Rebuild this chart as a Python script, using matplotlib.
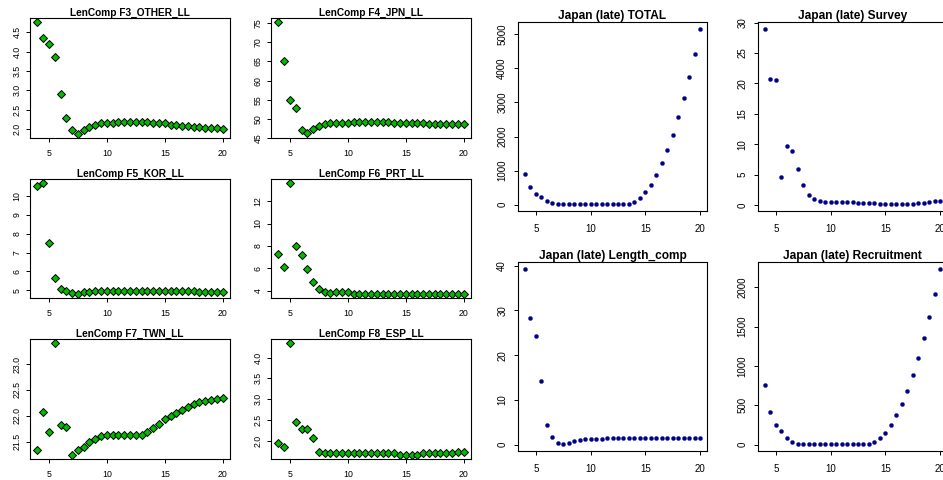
import matplotlib
matplotlib.use("Agg")
import matplotlib.pyplot as plt
import numpy as np

plt.rcParams['font.family'] = ['Liberation Sans', 'DejaVu Sans']

W, H = 943, 480
DPI = 100

# x values (common)
x_vals = [4 + 0.5 * i for i in range(33)]

# ---------------- left block: LenComp fleets (green diamonds) -------------
f3_title = "LenComp F3_OTHER_LL"
f3_y = [4.75, 4.35, 4.19, 3.85, 2.91, 2.28, 1.97, 1.89, 1.97, 2.05, 2.12, 2.15,
        2.17, 2.17, 2.20, 2.20, 2.20, 2.20, 2.20, 2.20, 2.17, 2.15, 2.15, 2.12,
        2.12, 2.09, 2.09, 2.07, 2.07, 2.04, 2.04, 2.04, 2.02]
f3_yticks = [2.0, 2.5, 3.0, 3.5, 4.0, 4.5]
f3_ylabels = ["2.0", "2.5", "3.0", "3.5", "4.0", "4.5"]

f4_title = "LenComp F4_JPN_LL"
f4_y = [75.2, 65.2, 55.0, 52.9, 47.1, 46.3, 47.3, 48.1, 48.6, 48.9, 48.9, 48.9,
        48.9, 49.1, 49.1, 49.1, 49.1, 49.1, 49.1, 49.1, 48.9, 48.9, 48.9, 48.9,
        48.9, 48.9, 48.6, 48.6, 48.6, 48.6, 48.6, 48.6, 48.6]
f4_yticks = [45, 50, 55, 60, 65, 70, 75]
f4_ylabels = ["45", "50", "55", "60", "65", "70", "75"]

f5_title = "LenComp F5_KOR_LL"
f5_y = [10.53, 10.65, 7.48, 5.65, 5.05, 4.95, 4.88, 4.83, 4.90, 4.93, 4.95, 4.98,
        4.98, 4.98, 4.98, 4.98, 4.98, 4.98, 4.98, 4.98, 4.98, 4.98, 4.95, 4.95,
        4.95, 4.95, 4.95, 4.95, 4.92, 4.92, 4.92, 4.92, 4.92]
f5_yticks = [5, 6, 7, 8, 9, 10]
f5_ylabels = ["5", "6", "7", "8", "9", "10"]

f6_title = "LenComp F6_PRT_LL"
f6_y = [7.25, 6.12, 13.58, 8.03, 7.15, 5.94, 4.76, 4.18, 3.92, 3.83, 3.85, 3.85,
        3.85, 3.75, 3.75, 3.75, 3.75, 3.75, 3.75, 3.75, 3.75, 3.75, 3.75, 3.75,
        3.75, 3.75, 3.75, 3.75, 3.75, 3.75, 3.75, 3.75, 3.75]
f6_yticks = [4, 6, 8, 10, 12]
f6_ylabels = ["4", "6", "8", "10", "12"]

f7_title = "LenComp F7_TWN_LL"
f7_y = [21.33, 22.08, 21.69, 23.40, 21.83, 21.79, 21.25, 21.33, 21.40, 21.50,
        21.56, 21.60, 21.62, 21.62, 21.63, 21.63, 21.63, 21.63, 21.63, 21.69,
        21.77, 21.85, 21.93, 22.00, 22.06, 22.12, 22.17, 22.22, 22.26, 22.29,
        22.31, 22.33, 22.35]
f7_yticks = [21.5, 22.0, 22.5, 23.0]
f7_ylabels = ["21.5", "22.0", "22.5", "23.0"]

f8_title = "LenComp F8_ESP_LL"
f8_y = [1.94, 1.84, 4.34, 2.46, 2.29, 2.28, 2.06, 1.72, 1.70, 1.70, 1.70, 1.70,
        1.70, 1.70, 1.70, 1.70, 1.70, 1.70, 1.70, 1.70, 1.70, 1.67, 1.67, 1.67,
        1.67, 1.70, 1.70, 1.70, 1.70, 1.70, 1.70, 1.72, 1.72]
f8_yticks = [2.0, 2.5, 3.0, 3.5, 4.0]
f8_ylabels = ["2.0", "2.5", "3.0", "3.5", "4.0"]

# ---------------- right block: Japan (late) components (navy dots) --------
tot_title = "Japan (late) TOTAL"
tot_y = [908, 527, 322, 225, 117, 59, 30, 20, 20, 20, 20, 20, 20, 20, 20, 20,
         20, 20, 20, 20, 88, 205, 381, 586, 879, 1230, 1611, 2051, 2578, 3135,
         3750, 4424, 5156]
tot_yticks = [0, 1000, 2000, 3000, 4000, 5000]
tot_ylabels = ["0", "1000", "2000", "3000", "4000", "5000"]

srv_title = "Japan (late) Survey"
srv_y = [28.95, 20.7, 20.55, 4.6, 9.7, 8.8, 5.9, 3.3, 1.64, 0.93, 0.66, 0.49,
         0.49, 0.49, 0.49, 0.49, 0.49, 0.33, 0.33, 0.33, 0.33, 0.16, 0.16, 0.16,
         0.16, 0.16, 0.16, 0.16, 0.33, 0.33, 0.49, 0.66, 0.66]
srv_yticks = [0, 5, 10, 15, 20, 25, 30]
srv_ylabels = ["0", "5", "10", "15", "20", "25", "30"]

len_title = "Japan (late) Length_comp"
len_y = [39.26, 28.3, 24.2, 14.2, 4.4, 1.7, 0.45, 0.15, 0.45, 0.8, 1.0, 1.2,
         1.2, 1.2, 1.2, 1.4, 1.4, 1.4, 1.4, 1.4, 1.4, 1.4, 1.4, 1.4, 1.4, 1.4,
         1.4, 1.4, 1.4, 1.4, 1.4, 1.4, 1.4]
len_yticks = [0, 10, 20, 30, 40]
len_ylabels = ["0", "10", "20", "30", "40"]

rec_title = "Japan (late) Recruitment"
rec_y = [758, 415, 250, 174, 85, 34, 10, 10, 10, 10, 10, 10, 10, 10, 10, 10,
         10, 10, 10, 10, 34, 85, 148, 250, 377, 517, 682, 886, 1102, 1360, 1623,
         1919, 2233]
rec_yticks = [0, 500, 1000, 1500, 2000]
rec_ylabels = ["0", "500", "1000", "1500", "2000"]

x_ticks = [5, 10, 15, 20]
x_labels = ["5", "10", "15", "20"]

fig = plt.figure(figsize=(W / DPI, H / DPI), dpi=DPI)


def px_rect(l, t, r, b):
    return [l / W, 1 - b / H, (r - l) / W, (b - t) / H]


def rlim(v):
    lo, hi = min(v), max(v)
    d = (hi - lo) * 0.04
    return lo - d, hi + d


def panel(rect, y, title, yt, yl, kind):
    ax = fig.add_axes(px_rect(*rect))
    if kind == "green":
        ax.plot(x_vals, y, linestyle="none", marker="D", markersize=4.0,
                markerfacecolor="#00BB00", markeredgecolor="black",
                markeredgewidth=0.7)
        tfs, lfs, xpad, ypad = 7.3, 6.3, 5.0, 3.0
    else:
        ax.plot(x_vals, y, linestyle="none", marker="o", markersize=3.0,
                markerfacecolor="#00008B", markeredgecolor="#00008B",
                markeredgewidth=0.2)
        tfs, lfs, xpad, ypad = 8.6, 7.0, 6.5, 4.5
    ax.set_xlim(*rlim(x_vals))
    ax.set_ylim(*rlim(y))
    ax.set_xticks(x_ticks)
    ax.set_xticklabels(x_labels)
    ax.set_yticks(yt)
    ax.set_yticklabels(yl)
    for lab in ax.get_yticklabels():
        lab.set_rotation(90)
        lab.set_va("center")
    ax.tick_params(axis="x", direction="out", length=3.2, width=0.7,
                   labelsize=lfs, pad=xpad)
    ax.tick_params(axis="y", direction="out", length=3.2, width=0.7,
                   labelsize=lfs, pad=ypad)
    for s in ax.spines.values():
        s.set_linewidth(0.8)
        s.set_color("black")
    ax.set_title(title, fontsize=tfs, fontweight="bold", pad=0.5)
    return ax


# left block
panel((30, 18, 230, 138), f3_y, f3_title, f3_yticks, f3_ylabels, "green")
panel((271, 18, 471, 138), f4_y, f4_title, f4_yticks, f4_ylabels, "green")
panel((30, 179, 230, 298), f5_y, f5_title, f5_yticks, f5_ylabels, "green")
panel((271, 179, 471, 298), f6_y, f6_title, f6_yticks, f6_ylabels, "green")
panel((30, 339, 230, 459), f7_y, f7_title, f7_yticks, f7_ylabels, "green")
panel((271, 339, 471, 459), f8_y, f8_title, f8_yticks, f8_ylabels, "green")

# right block
panel((518, 22, 707, 211), tot_y, tot_title, tot_yticks, tot_ylabels, "blue")
panel((758, 22, 947, 211), srv_y, srv_title, srv_yticks, srv_ylabels, "blue")
panel((518, 262, 707, 451), len_y, len_title, len_yticks, len_ylabels, "blue")
panel((758, 262, 947, 451), rec_y, rec_title, rec_yticks, rec_ylabels, "blue")

fig.savefig("out.png", dpi=DPI)
